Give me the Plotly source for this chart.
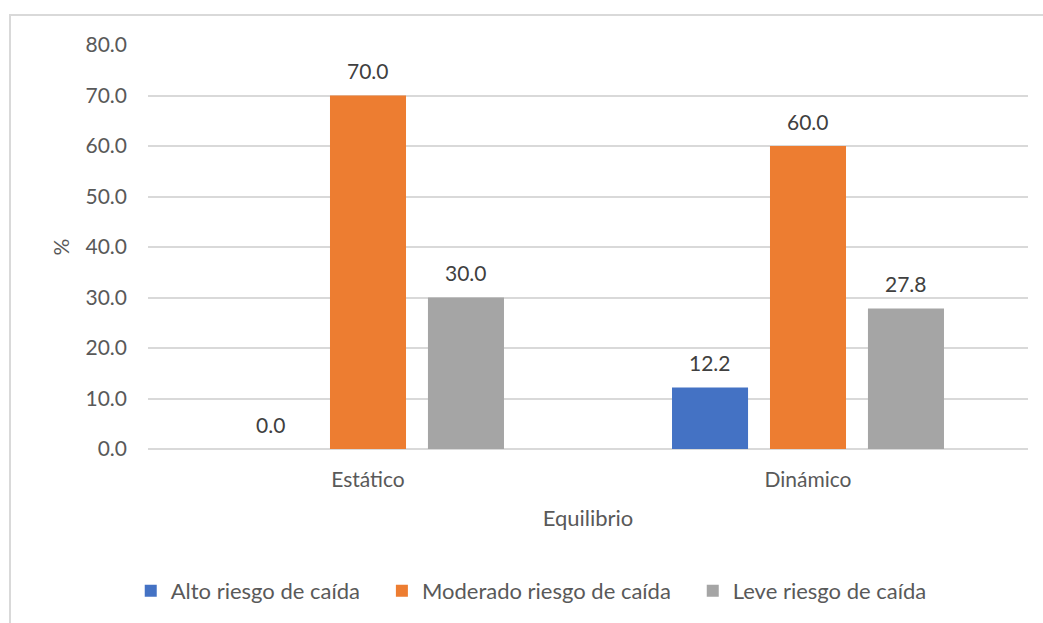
import plotly.graph_objects as go

# Categorías del eje X y porcentajes por nivel de riesgo
categorias = ["Estático", "Dinámico"]
series = ["Alto riesgo de caída", "Moderado riesgo de caída", "Leve riesgo de caída"]
alto = [0.0, 12.2]
moderado = [70.0, 60.0]
leve = [30.0, 27.8]
valores = [alto, moderado, leve]
colores = ["#4472C4", "#ED7D31", "#A5A5A5"]
y_ticks = [0, 10, 20, 30, 40, 50, 60, 70, 80]

FONT = "Lato"
TXT = "#595959"
PAD = "\u00a0" * 3  # separación extra entre entradas de la leyenda

fig = go.Figure()
for k, (nombre, vals, col) in enumerate(zip(series, valores, colores)):
    fig.add_trace(go.Bar(
        x=categorias, y=vals,
        name=nombre + (PAD if k < len(series) - 1 else ""),
        marker=dict(color=col, line=dict(width=0)),
    ))

# Etiquetas de valor sobre cada barra (desplazadas según su posición en el grupo)
slot_px = 98
for i, vals in enumerate(valores):
    for cat, v in zip(categorias, vals):
        fig.add_annotation(
            x=cat, y=v, xref="x", yref="y",
            text=f"{v:.1f}", showarrow=False,
            xshift=(i - 1) * slot_px, yshift=25,
            font=dict(family=FONT, size=21, color="#404040"),
        )

# Marco exterior del gráfico
fig.add_shape(
    type="rect", xref="paper", yref="paper",
    x0=(10 - 148) / 880, x1=1.2, y0=-0.8, y1=(450 - 15) / 405,
    line=dict(color="#D9D9D9", width=2), fillcolor="rgba(0,0,0,0)", layer="below",
)

fig.update_layout(
    width=1043, height=623,
    margin=dict(l=148, r=15, t=45, b=173),
    paper_bgcolor="white", plot_bgcolor="white",
    barmode="group", bargap=0.332, bargroupgap=0.224,
    font=dict(family=FONT, size=21, color=TXT),
    showlegend=True,
    legend=dict(
        orientation="h", x=0.4355, xanchor="center", y=-0.348, yanchor="middle",
        font=dict(family=FONT, size=22, color=TXT),
        itemwidth=30, traceorder="normal",
    ),
    xaxis=dict(
        title=dict(text="Equilibrio", font=dict(size=22, color=TXT), standoff=20),
        showgrid=False, showline=False, zeroline=False,
        ticklabelstandoff=16,
        tickfont=dict(size=21, color=TXT),
    ),
    yaxis=dict(
        title=dict(text="%", font=dict(size=21, color=TXT), standoff=10),
        range=[0, 80], tickvals=y_ticks, tickformat=".1f",
        showgrid=True, gridcolor="#D9D9D9", gridwidth=1.5,
        zeroline=True, zerolinecolor="#D9D9D9", zerolinewidth=1.5,
        showline=False, ticklabelstandoff=20,
        tickfont=dict(size=21, color=TXT),
    ),
)

fig.write_html("out.html")
